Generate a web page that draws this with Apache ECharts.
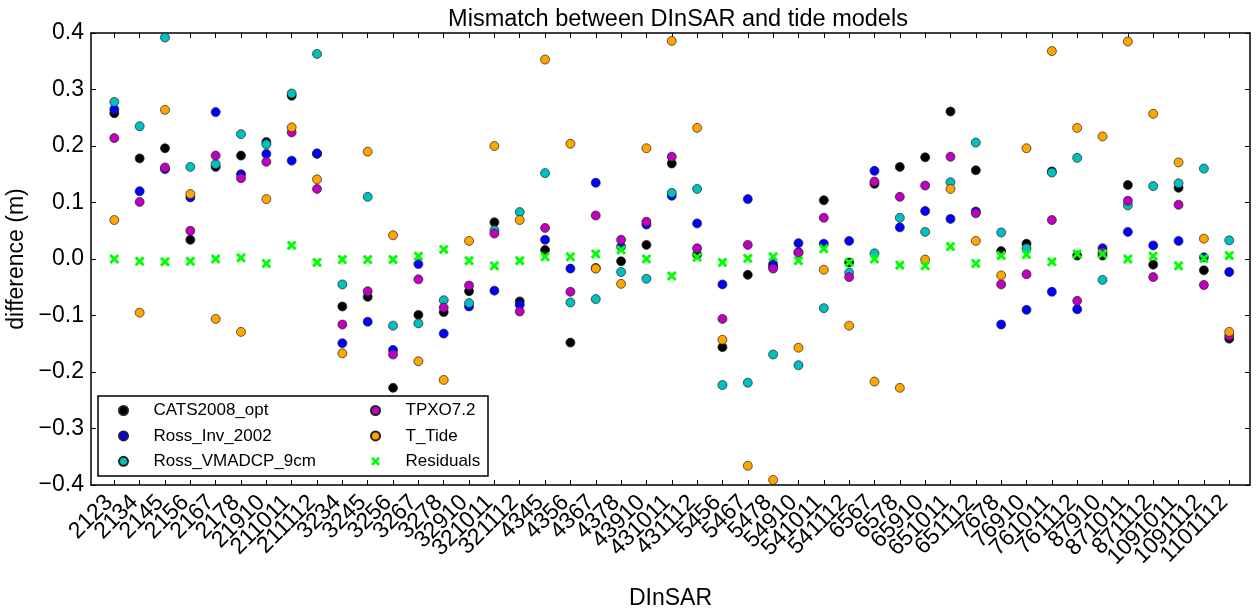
<!DOCTYPE html>
<html>
<head>
<meta charset="utf-8">
<script src="https://cdn.jsdelivr.net/npm/echarts@6/dist/echarts.min.js"></script>
<style>
  html, body { margin: 0; padding: 0; background: #fff; }
  #chart { width: 1257px; height: 614px; }
</style>
</head>
<body>
<div id="chart"></div>
<script>
const categories = ['2123', '2134', '2145', '2156', '2167', '2178', '21910', '211011', '211112',
  '3234', '3245', '3256', '3267', '3278', '32910', '321011', '321112',
  '4345', '4356', '4367', '4378', '43910', '431011', '431112',
  '5456', '5467', '5478', '54910', '541011', '541112',
  '6567', '6578', '65910', '651011', '651112',
  '7678', '76910', '761011', '761112',
  '87910', '871011', '871112',
  '1091011', '1091112', '1101112']

const cats2008 = [0.258, 0.178, 0.196, 0.034, 0.163, 0.183, 0.207, 0.289, 0.186,
  -0.084, -0.067, -0.228, -0.099, -0.094, -0.057, 0.065, -0.075,
  0.016, -0.148, -0.016, -0.004, 0.025, 0.169, 0.008,
  -0.156, -0.028, -0.013, 0.012, 0.104, -0.006,
  0.133, 0.163, 0.180, 0.261, 0.157,
  0.014, 0.027, 0.155, 0.006,
  0.006, 0.131, -0.010,
  0.126, -0.020, -0.141]
const rossInv = [0.265, 0.120, 0.159, 0.109, 0.260, 0.150, 0.186, 0.174, 0.187,
  -0.149, -0.111, -0.161, -0.009, -0.132, -0.084, -0.056, -0.081,
  0.034, -0.017, 0.135, 0.022, 0.061, 0.112, 0.063,
  -0.045, 0.106, -0.009, 0.028, 0.027, 0.032,
  0.156, 0.056, 0.085, 0.071, 0.084,
  -0.116, -0.090, -0.058, -0.089,
  0.019, 0.048, 0.024,
  0.032, 0.003, -0.023]
const rossVmadcp = [0.278, 0.235, 0.392, 0.163, 0.168, 0.221, 0.203, 0.293, 0.363,
  -0.045, 0.110, -0.118, -0.114, -0.073, -0.078, 0.051, 0.083,
  0.152, -0.077, -0.071, -0.023, -0.035, 0.117, 0.124,
  -0.223, -0.219, -0.169, -0.188, -0.087, -0.024,
  0.010, 0.073, 0.048, 0.136, 0.206,
  0.047, 0.019, 0.153, 0.179,
  -0.037, 0.095, 0.129,
  0.134, 0.160, 0.033]
const tpxo = [0.214, 0.101, 0.162, 0.050, 0.183, 0.143, 0.172, 0.224, 0.124,
  -0.116, -0.057, -0.169, -0.036, -0.086, -0.047, 0.045, -0.093,
  0.055, -0.058, 0.077, 0.034, 0.066, 0.181, 0.019,
  -0.106, 0.025, -0.017, 0.011, 0.073, -0.032,
  0.137, 0.110, 0.130, 0.181, 0.081,
  -0.045, -0.027, 0.069, -0.074,
  0.012, 0.103, -0.032,
  0.096, -0.046, -0.136]
const tTide = [0.069, -0.095, 0.264, 0.115, -0.106, -0.129, 0.106, 0.233, 0.141,
  -0.167, 0.190, 0.042, -0.181, -0.214, 0.032, 0.200, 0.069,
  0.353, 0.204, -0.017, -0.044, 0.196, 0.386, 0.232,
  -0.143, -0.366, -0.391, -0.157, -0.019, -0.118,
  -0.217, -0.228, -0.001, 0.124, 0.032,
  -0.029, 0.196, 0.368, 0.232,
  0.217, 0.385, 0.257,
  0.171, 0.036, -0.129]
const residuals = [0.000, -0.004, -0.005, -0.004, 0.000, 0.002, -0.008, 0.024, -0.006,
  -0.001, -0.001, -0.001, 0.005, 0.017, -0.003, -0.012, -0.003,
  0.004, 0.004, 0.009, 0.016, 0.000, -0.030, 0.003,
  -0.006, 0.001, 0.004, -0.003, 0.018, -0.006,
  0.000, -0.011, -0.012, 0.022, -0.008,
  0.006, 0.008, -0.005, 0.009,
  0.009, 0.000, 0.005,
  -0.012, 0.001, 0.006]

const tickIdx = categories.map((c, i) => i)
const crossPath = 'path://M0,2.1L2.1,0L5,2.9L7.9,0L10,2.1L7.1,5L10,7.9L7.9,10L5,7.1L2.1,10L0,7.9L2.9,5Z'
const font = 'Liberation Sans, Arial, sans-serif'

function pts(values) {
  return values.map((v, i) => [i, v])
}

function dotSeries(name, values, color) {
  return {
    name: name,
    type: 'scatter',
    data: pts(values),
    symbol: 'circle',
    symbolSize: 9,
    itemStyle: {color: color, borderColor: '#222', borderWidth: 0.7, opacity: 1},
    emphasis: {disabled: true}
  }
}

const frameLine = {show: true, onZero: false, lineStyle: {color: '#000', width: 1.5}}
const frameTick = {show: true, inside: true, length: 5, customValues: tickIdx, lineStyle: {color: '#000'}}

const option = {
  animation: false,
  backgroundColor: '#fff',
  textStyle: {fontFamily: font},
  title: {
    text: 'Mismatch between DInSAR and tide models',
    left: 673,
    textAlign: 'center',
    top: 3,
    textStyle: {fontSize: 23.5, fontWeight: 'normal', color: '#000', fontFamily: font}
  },
  grid: [
    {left: 91, right: 7, top: 33, bottom: 129, outerBoundsMode: 'none', containLabel: false},
    // label strip: one band per category, centred on the ticks
    {left: 96.6, right: 20.1, top: 33, bottom: 129, outerBoundsMode: 'none', containLabel: false}
  ],
  xAxis: [{
    type: 'value',
    min: -0.92,
    max: 44.82,
    position: 'bottom',
    name: 'DInSAR',
    nameLocation: 'middle',
    nameGap: 102,
    nameTextStyle: {fontSize: 23, color: '#000', fontFamily: font},
    axisLine: frameLine,
    axisTick: frameTick,
    axisLabel: {show: false},
    splitLine: {show: false}
  }, {
    type: 'value',
    min: -0.92,
    max: 44.82,
    position: 'top',
    axisLine: frameLine,
    axisTick: frameTick,
    axisLabel: {show: false},
    splitLine: {show: false}
  }, {
    gridIndex: 1,
    type: 'category',
    data: categories,
    boundaryGap: true,
    position: 'bottom',
    axisLine: {show: false},
    axisTick: {show: false},
    axisLabel: {
      interval: 0,
      rotate: 45,
      fontSize: 23,
      color: '#000',
      margin: 14,
      fontFamily: font
    },
    splitLine: {show: false}
  }],
  yAxis: [{
    type: 'value',
    min: -0.4,
    max: 0.4,
    interval: 0.1,
    position: 'left',
    name: 'difference (m)',
    nameLocation: 'middle',
    nameGap: 52,
    nameTextStyle: {fontSize: 23, color: '#000', fontFamily: font},
    axisLine: frameLine,
    axisTick: {show: true, inside: true, length: 5, lineStyle: {color: '#000'}},
    axisLabel: {
      fontSize: 23,
      color: '#000',
      margin: 7,
      fontFamily: font,
      formatter: v => v.toFixed(1).replace('-', '\u2212')
    },
    splitLine: {show: false}
  }, {
    type: 'value',
    min: -0.4,
    max: 0.4,
    interval: 0.1,
    position: 'right',
    axisLine: frameLine,
    axisTick: {show: true, inside: true, length: 5, lineStyle: {color: '#000'}},
    axisLabel: {show: false},
    splitLine: {show: false}
  }, {
    gridIndex: 1,
    type: 'value',
    show: false
  }],
  legend: [{
    data: ['CATS2008_opt', 'Ross_Inv_2002', 'Ross_VMADCP_9cm'],
    orient: 'vertical',
    left: 113,
    top: 397,
    itemWidth: 50,
    itemHeight: 9,
    itemGap: 8.4,
    z: 10,
    selectedMode: false,
    textStyle: {fontSize: 17, lineHeight: 17, color: '#000', fontFamily: font}
  }, {
    data: ['TPXO7.2', 'T_Tide', 'Residuals'],
    orient: 'vertical',
    left: 365,
    top: 397,
    itemWidth: 50,
    itemHeight: 9,
    itemGap: 8.4,
    z: 10,
    selectedMode: false,
    textStyle: {fontSize: 17, lineHeight: 17, color: '#000', fontFamily: font}
  }],
  graphic: [{
    type: 'rect',
    shape: {x: 98, y: 396, width: 390, height: 80},
    style: {fill: '#fff', stroke: '#000', lineWidth: 1.5},
    z: 5
  }],
  series: [
    dotSeries('CATS2008_opt', cats2008, '#000000'),
    dotSeries('Ross_Inv_2002', rossInv, '#0000ff'),
    dotSeries('Ross_VMADCP_9cm', rossVmadcp, '#00bfbf'),
    dotSeries('TPXO7.2', tpxo, '#bf00bf'),
    dotSeries('T_Tide', tTide, '#ffa500'),
    {
      name: 'Residuals',
      type: 'scatter',
      data: pts(residuals),
      symbol: crossPath,
      symbolSize: 10,
      symbolKeepAspect: true,
      itemStyle: {color: '#00ff00', opacity: 1},
      emphasis: {disabled: true}
    }
  ]
}

const chart = echarts.init(document.getElementById('chart'), null, {renderer: 'canvas'})
chart.setOption(option)
</script>
</body>
</html>
